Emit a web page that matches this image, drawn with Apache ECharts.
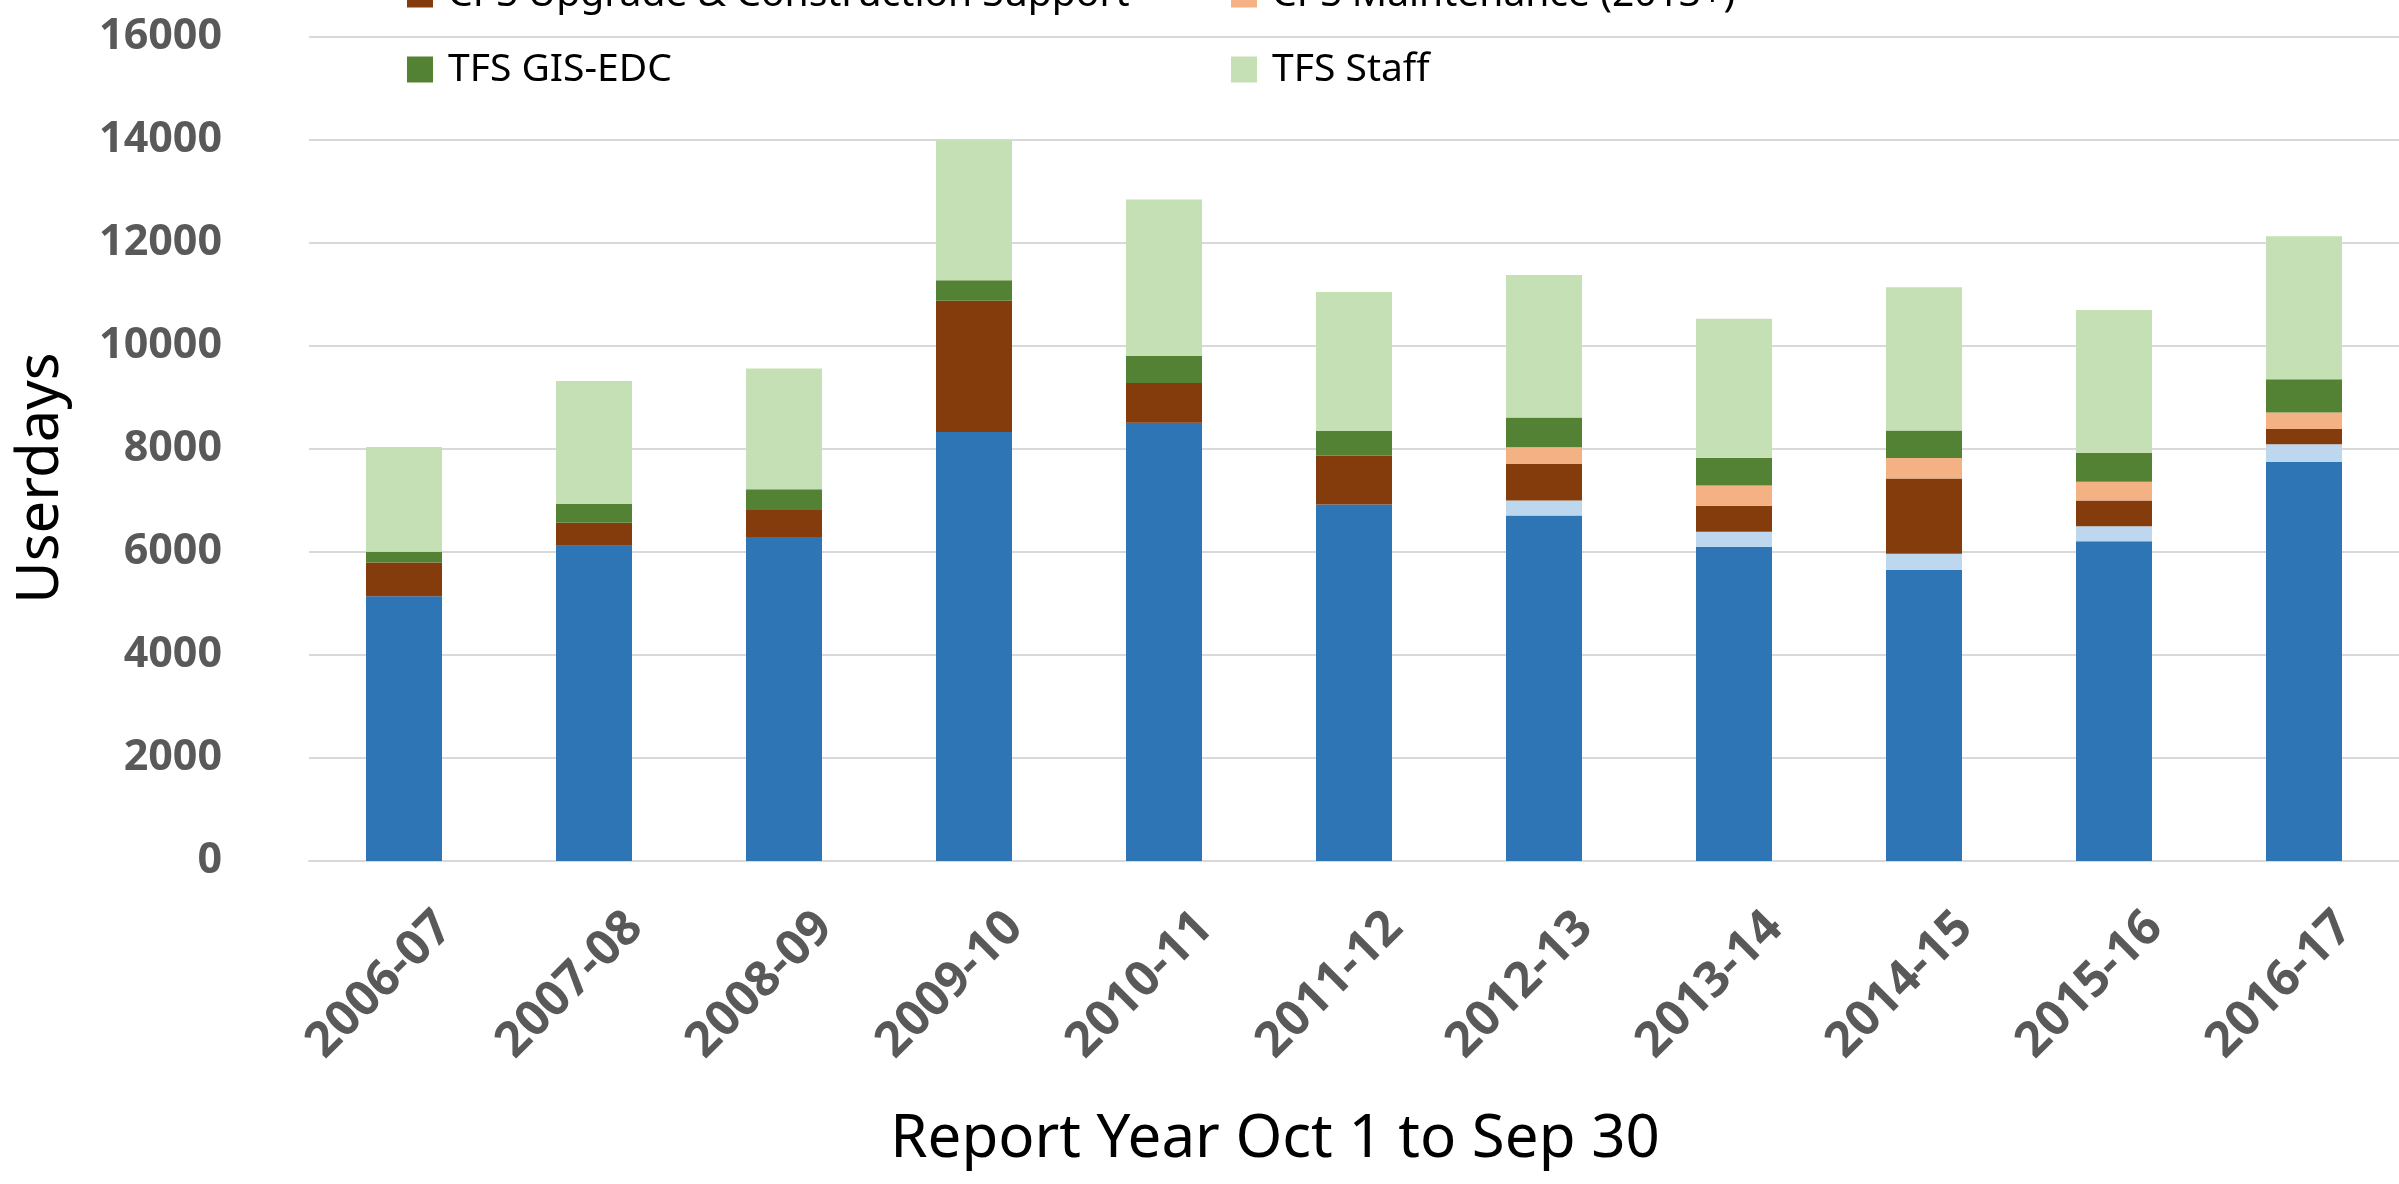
<!DOCTYPE html>
<html>
<head>
<meta charset="utf-8">
<script src="https://cdn.jsdelivr.net/npm/echarts@6/dist/echarts.min.js"></script>
<style>
  html, body { margin: 0; padding: 0; background: #fff; }
  #chart { width: 2399px; height: 1184px; }
</style>
</head>
<body>
<div id="chart"></div>
<script>
// report years
const years = ['2006-07', '2007-08', '2008-09', '2009-10', '2010-11', '2011-12',
  '2012-13', '2013-14', '2014-15', '2015-16', '2016-17'];

// userdays per group (stacked, bottom to top)
const cpsOperations = [5140, 6120, 6290, 8330, 8510, 6920, 6710, 6100, 5650, 6210, 7750];
const cpsSnowmaking = [0, 0, 0, 0, 0, 0, 290, 295, 315, 290, 340];
const cpsUpgrade = [655, 450, 525, 2550, 770, 950, 710, 505, 1460, 500, 300];
const cpsMaintenance = [0, 0, 0, 0, 0, 0, 325, 390, 400, 365, 320];
const tfsGisEdc = [210, 360, 405, 395, 530, 480, 575, 540, 535, 560, 645];
const tfsStaff = [2035, 2390, 2345, 2725, 3035, 2700, 2770, 2700, 2780, 2775, 2775];

const yTicks = [0, 2000, 4000, 6000, 8000, 10000, 12000, 14000, 16000];

const groups = [
  { name: 'CPS Operations', data: cpsOperations, color: '#2E75B6' },
  { name: 'CPS Snowmaking (2012+)', data: cpsSnowmaking, color: '#BDD7EE' },
  { name: 'CPS Upgrade & Construction Support', data: cpsUpgrade, color: '#843C0C' },
  { name: 'CPS Maintenance (2013+)', data: cpsMaintenance, color: '#F4B183' },
  { name: 'TFS GIS-EDC', data: tfsGisEdc, color: '#548235' },
  { name: 'TFS Staff', data: tfsStaff, color: '#C5E0B4' }
];

const chart = echarts.init(document.getElementById('chart'));

const legendText = { fontFamily: 'Noto Sans', fontSize: 39, lineHeight: 39, color: '#000', padding: [0, 0, 0, 10] };
function legendCol(left, names) {
  return {
    orient: 'vertical', left: left, top: -105,
    itemWidth: 26, itemHeight: 26, itemGap: 36, icon: 'rect',
    textStyle: legendText, selectedMode: false,
    data: names
  };
}

chart.setOption({
  backgroundColor: '#fff',
  animation: false,
  legend: [
    legendCol(402, [groups[0].name, groups[2].name, groups[4].name]),
    legendCol(1226, [groups[1].name, groups[3].name, groups[5].name])
  ],
  grid: { left: 309, right: 0, top: 37, bottom: 323, outerBoundsMode: 'none' },
  xAxis: {
    type: 'category',
    data: years,
    name: 'Report Year Oct 1 to Sep 30',
    nameLocation: 'middle',
    nameGap: 249,
    nameMoveOverlap: false,
    nameTextStyle: { fontFamily: 'Noto Sans', fontSize: 60, color: '#000', padding: [0, 158, 0, 0] },
    axisLine: { lineStyle: { color: '#D9D9D9', width: 2 } },
    axisTick: { show: false },
    axisLabel: {
      rotate: 45, margin: 18, interval: 0,
      verticalAlign: 'top', lineHeight: 116,
      fontFamily: 'Open Sans', fontWeight: 'bold', fontSize: 49, color: '#595959'
    }
  },
  yAxis: {
    type: 'value',
    min: yTicks[0],
    max: yTicks[yTicks.length - 1],
    interval: 2000,
    name: 'Userdays',
    nameLocation: 'middle',
    nameGap: 239,
    nameRotate: 90,
    nameMoveOverlap: false,
    nameTextStyle: { fontFamily: 'Noto Sans', fontSize: 58, color: '#000', padding: [0, 58, 0, 0] },
    axisLine: { show: false },
    axisTick: { show: false },
    splitLine: { lineStyle: { color: '#D9D9D9', width: 2 } },
    axisLabel: {
      margin: 87,
      formatter: v => String(v),
      fontFamily: 'Open Sans', fontWeight: 'bold', fontSize: 43, color: '#595959'
    }
  },
  series: groups.map(g => ({
    name: g.name,
    type: 'bar',
    stack: 'total',
    barWidth: 76,
    itemStyle: { color: g.color },
    data: g.data
  }))
});
</script>
</body>
</html>
